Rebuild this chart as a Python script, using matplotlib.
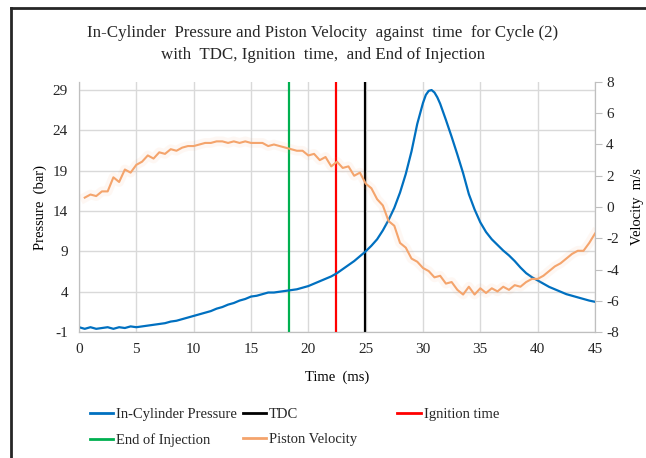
"""
In-cylinder pressure and piston velocity vs time, cycle (2)
"""

import matplotlib
matplotlib.use("Agg")
import matplotlib.pyplot as plt
from matplotlib.lines import Line2D

# ── 1. Data ───────────────────────────────────────────────────────────────────

TIME_P = [0.0, 0.5, 1.0, 1.5, 2.0, 2.5, 3.0, 3.5, 4.0, 4.5,
          5.0, 5.5, 6.0, 6.5, 7.0, 7.5, 8.0, 8.5, 9.0, 9.5,
          10.0, 10.5, 11.0, 11.5, 12.0, 12.5, 13.0, 13.5, 14.0, 14.5,
          15.0, 15.5, 16.0, 16.5, 17.0, 17.5, 18.0, 18.5, 19.0, 19.5,
          20.0, 20.5, 21.0, 21.5, 22.0, 22.5, 23.0, 23.5, 24.0, 24.5,
          25.0, 25.5, 26.0, 26.5, 27.0, 27.5, 28.0, 28.5, 29.0, 29.5,
          30.0, 30.25, 30.5, 30.75, 31.0, 31.25, 31.5, 32.0, 32.5, 33.0,
          33.5, 34.0, 34.5, 35.0, 35.5, 36.0, 36.5, 37.0, 37.5, 38.0,
          38.5, 39.0, 39.5, 40.0, 40.5, 41.0, 41.5, 42.0, 42.5, 43.0,
          43.5, 44.0, 44.5, 45.0]

PRESSURE = [-0.4, -0.6, -0.4, -0.6, -0.5, -0.4, -0.6, -0.4, -0.5, -0.3,
            -0.4, -0.3, -0.2, -0.1, 0.0, 0.1, 0.3, 0.4, 0.6, 0.8,
            1.0, 1.2, 1.4, 1.6, 1.9, 2.1, 2.4, 2.6, 2.9, 3.1,
            3.4, 3.5, 3.7, 3.9, 3.9, 4.0, 4.1, 4.2, 4.3, 4.5,
            4.7, 5.0, 5.3, 5.6, 5.9, 6.3, 6.8, 7.3, 7.8, 8.4,
            9.0, 9.7, 10.5, 11.6, 12.9, 14.4, 16.3, 18.6, 21.4, 24.8,
            27.4, 28.4, 28.9, 29.0, 28.7, 28.1, 27.3, 25.3, 23.2, 21.0,
            18.7, 16.1, 14.2, 12.6, 11.4, 10.5, 9.8, 9.1, 8.5, 7.8,
            7.0, 6.3, 5.8, 5.4, 5.0, 4.6, 4.3, 4.0, 3.7, 3.5,
            3.3, 3.1, 2.9, 2.75]

TIME_V = [0.5, 1.0, 1.5, 2.0, 2.5, 3.0, 3.5, 4.0, 4.5,
          5.0, 5.5, 6.0, 6.5, 7.0, 7.5, 8.0, 8.5, 9.0, 9.5,
          10.0, 10.5, 11.0, 11.5, 12.0, 12.5, 13.0, 13.5, 14.0, 14.5,
          15.0, 15.5, 16.0, 16.5, 17.0, 17.5, 18.0, 18.5, 19.0, 19.5,
          20.0, 20.5, 21.0, 21.5, 22.0, 22.5, 23.0, 23.5, 24.0, 24.5,
          25.0, 25.5, 26.0, 26.5, 27.0, 27.5, 28.0, 28.5, 29.0, 29.5,
          30.0, 30.5, 31.0, 31.5, 32.0, 32.5, 33.0, 33.5, 34.0, 34.5,
          35.0, 35.5, 36.0, 36.5, 37.0, 37.5, 38.0, 38.5, 39.0, 39.5,
          40.0, 40.5, 41.0, 41.5, 42.0, 42.5, 43.0, 43.5, 44.0, 44.5, 45.0]

VELOCITY = [0.6, 0.8, 0.7, 1.0, 1.0, 1.9, 1.6, 2.4, 2.2,
            2.7, 2.9, 3.3, 3.1, 3.5, 3.4, 3.7, 3.6, 3.8, 3.9,
            3.9, 4.0, 4.1, 4.1, 4.2, 4.2, 4.1, 4.2, 4.1, 4.2,
            4.1, 4.1, 4.1, 3.9, 4.0, 3.9, 3.8, 3.7, 3.6, 3.6,
            3.3, 3.4, 3.0, 3.2, 2.6, 2.9, 2.5, 2.6, 2.0, 2.2,
            1.5, 1.2, 0.5, 0.1, -0.9, -1.2, -2.3, -2.6, -3.3, -3.5,
            -3.9, -4.1, -4.5, -4.4, -4.9, -4.8, -5.3, -5.6, -5.1, -5.6,
            -5.2, -5.5, -5.2, -5.4, -5.1, -5.3, -5.0, -5.1, -4.8, -4.6,
            -4.6, -4.4, -4.1, -3.8, -3.6, -3.3, -3.0, -2.8, -2.8, -2.3, -1.7]

EOI_TIME      = 18.3    # end of injection (ms)
IGNITION_TIME = 22.4
TDC_TIME      = 24.9

X_TICKS = [0, 5, 10, 15, 20, 25, 30, 35, 40, 45]
P_TICKS = [-1, 4, 9, 14, 19, 24, 29]
V_TICKS = [-8, -6, -4, -2, 0, 2, 4, 6, 8]

# ── 2. Style ──────────────────────────────────────────────────────────────────

BLUE   = "#0070C0"
ORANGE = "#F4A46C"
GREEN  = "#00B050"
RED    = "#FF0000"
GRID   = "#D9D9D9"
AXIS   = "#BFBFBF"

plt.rcParams["font.family"] = ["Liberation Serif", "DejaVu Serif"]
plt.rcParams["text.color"] = "#262626"
plt.rcParams["axes.unicode_minus"] = False

fig = plt.figure(figsize=(6.46, 4.58), dpi=100)
ax = fig.add_axes([0.1223, 0.275, 0.7987, 0.546])
ax2 = ax.twinx()

# outer chart frame (only left/top visible in the crop)
fig.add_artist(Line2D([0.017, 0.017], [0.0, 0.983], color="#262626", lw=2))
fig.add_artist(Line2D([0.017, 1.0], [0.983, 0.983], color="#262626", lw=2))

# ── 3. Plot ───────────────────────────────────────────────────────────────────

ax.plot(TIME_P, PRESSURE, color=BLUE, lw=1.6, zorder=4)
ax.axvline(EOI_TIME, color=GREEN, lw=1.6, zorder=3)
ax.axvline(IGNITION_TIME, color=RED, lw=1.6, zorder=3)
ax.axvline(TDC_TIME, color="black", lw=1.6, zorder=3)

# faint glow under the velocity trace, then the trace itself
ax2.plot(TIME_V, VELOCITY, color=ORANGE, lw=7, alpha=0.08)
ax2.plot(TIME_V, VELOCITY, color=ORANGE, lw=1.5)

ax.set_xlim(0, 45)
ax.set_ylim(-1, 30)
ax2.set_ylim(-8, 8)
ax.set_xticks(X_TICKS)
ax.set_yticks(P_TICKS)
ax2.set_yticks(V_TICKS)

ax.grid(True, color=GRID, lw=1)
ax.set_axisbelow(True)

for a in (ax, ax2):
    a.spines["top"].set_visible(False)
    for s in ("left", "right", "bottom"):
        a.spines[s].set_color(AXIS)
ax.tick_params(axis="both", length=0, labelsize=11, pad=8, colors="#262626")
ax2.tick_params(axis="y", length=5, labelsize=11, pad=3, colors="#262626")
ax2.tick_params(axis="y", color=AXIS)

ax.set_xlabel("Time  (ms)", fontsize=10.5, labelpad=10)
ax.set_ylabel("Pressure  (bar)", fontsize=10.5, labelpad=4)
ax2.set_ylabel("Velocity  m/s", fontsize=10.5, labelpad=9)

fig.suptitle("In-Cylinder  Pressure and Piston Velocity  against  time  for Cycle (2)\n"
             "with  TDC, Ignition  time,  and End of Injection",
             y=0.945, fontsize=12.2, linespacing=1.5)

# ── 4. Legend (three columns placed by hand) ──────────────────────────────────

def legend_col(items, x):
    handles = [Line2D([], [], color=c, lw=2) for c, _ in items]
    labels = [t for _, t in items]
    fig.legend(handles, labels, loc="upper left", bbox_to_anchor=(x, 0.11),
               frameon=False, fontsize=10.5, handlelength=1.6,
               handletextpad=0.2, labelspacing=0.85, borderpad=0,
               borderaxespad=0)

legend_col([(BLUE, "In-Cylinder Pressure"), (GREEN, "End of Injection")], 0.139)
legend_col([("black", "TDC"), (ORANGE, "Piston Velocity")], 0.376)
legend_col([(RED, "Ignition time")], 0.615)

plt.savefig("out.png", dpi=100)
